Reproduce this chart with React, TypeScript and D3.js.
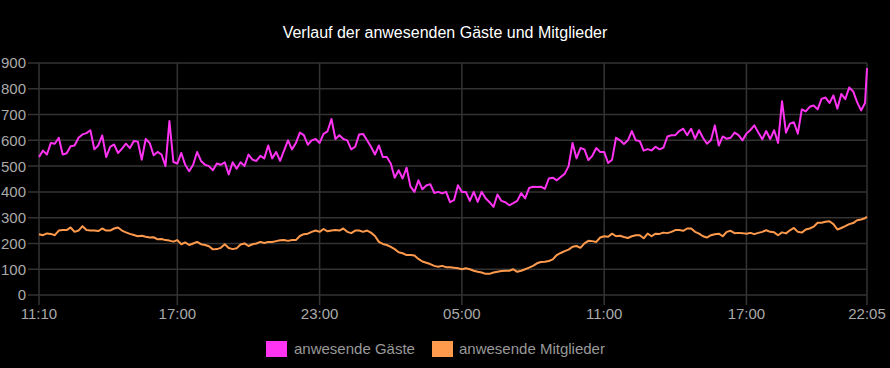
import React, { useMemo } from "react";
import * as d3 from "d3";

const WIDTH = 890;
const HEIGHT = 368;
const MARGIN = { top: 63, right: 23, bottom: 73, left: 39 };
const FONT = "'Liberation Sans', Arial, Helvetica, sans-serif";

const TITLE = "Verlauf der anwesenden Gäste und Mitglieder";
const SERIES_NAMES = ["anwesende Gäste", "anwesende Mitglieder"];
const SERIES_COLORS = ["#ff33f2", "#ff9a4c"];

// minutes after 11:10 on day one, samples every 10 min, last one at 22:05 next day
const STEP_MIN = 10;
const END_MIN = 2095;
const X_TICKS = [0, 350, 710, 1070, 1430, 1790, 2095];
const X_TICK_LABELS = ["11:10", "17:00", "23:00", "05:00", "11:00", "17:00", "22:05"];
const Y_TICKS = [0, 100, 200, 300, 400, 500, 600, 700, 800, 900];

const gaeste = [
  535, 560, 545, 590, 587, 610, 545, 550, 577, 580,
  610, 623, 628, 639, 565, 580, 619, 535, 575, 584,
  551, 568, 587, 570, 597, 595, 525, 605, 590, 542,
  555, 545, 500, 675, 516, 510, 551, 505, 480, 505,
  555, 520, 505, 500, 484, 510, 505, 515, 468, 515,
  490, 515, 500, 545, 525, 520, 540, 530, 580, 530,
  555, 520, 560, 600, 565, 590, 630, 620, 583, 600,
  605, 590, 625, 635, 683, 605, 620, 605, 600, 565,
  575, 623, 625, 600, 575, 545, 580, 535, 535, 510,
  455, 484, 452, 494, 420, 400, 445, 410, 425, 430,
  396, 400, 394, 400, 360, 368, 426, 400, 400, 365,
  400, 361, 400, 375, 360, 342, 390, 365, 360, 348,
  356, 365, 395, 375, 415, 420, 419, 420, 412, 452,
  455, 445, 458, 470, 500, 590, 530, 570, 565, 523,
  540, 570, 555, 555, 512, 525, 610, 600, 586, 600,
  636, 600, 597, 560, 566, 561, 575, 565, 572, 615,
  620, 620, 636, 645, 620, 645, 606, 639, 610, 587,
  600, 658, 580, 615, 606, 610, 630, 620, 600, 626,
  640, 658, 630, 604, 636, 605, 639, 590, 752, 630,
  665, 670, 626, 720, 712, 730, 735, 720, 761, 766,
  745, 774, 723, 780, 760, 805, 790, 748, 716, 745,
  880,
];

const mitglieder = [
  236, 232, 239, 237, 232, 250, 252, 252, 262, 245,
  250, 267, 252, 250, 250, 248, 258, 250, 250, 258,
  262, 250, 243, 237, 233, 228, 230, 226, 223, 224,
  216, 217, 213, 211, 207, 213, 197, 204, 194, 200,
  206, 197, 194, 189, 177, 178, 183, 197, 182, 178,
  181, 196, 200, 190, 197, 200, 206, 202, 206, 206,
  209, 212, 213, 210, 213, 213, 229, 236, 238, 245,
  250, 245, 256, 247, 250, 252, 250, 258, 245, 240,
  250, 250, 245, 250, 242, 229, 206, 198, 194, 187,
  178, 166, 162, 155, 155, 153, 140, 130, 125, 120,
  113, 110, 113, 108, 108, 106, 104, 100, 104, 100,
  94, 90, 87, 82, 82, 87, 90, 93, 94, 94,
  100, 90, 94, 100, 106, 113, 123, 128, 129, 132,
  138, 155, 163, 170, 176, 187, 190, 183, 200, 210,
  209, 206, 223, 228, 226, 238, 228, 230, 225, 221,
  228, 232, 232, 220, 238, 228, 238, 237, 242, 240,
  245, 252, 252, 249, 258, 258, 245, 238, 228, 223,
  232, 236, 238, 228, 245, 249, 240, 241, 240, 238,
  241, 236, 241, 245, 251, 245, 243, 232, 243, 239,
  251, 260, 245, 242, 254, 258, 265, 280, 280, 284,
  286, 275, 254, 260, 267, 275, 279, 290, 293, 298,
  303,
];

const minuteAt = (i: number, n: number) => (i === n - 1 ? END_MIN : i * STEP_MIN);

export default function App() {
  const boundsWidth = WIDTH - MARGIN.left - MARGIN.right;
  const boundsHeight = HEIGHT - MARGIN.top - MARGIN.bottom;

  const xScale = useMemo(
    () => d3.scaleLinear().domain([0, END_MIN]).range([0, boundsWidth]),
    [boundsWidth]
  );
  const yScale = useMemo(
    () => d3.scaleLinear().domain([0, 900]).range([boundsHeight, 0]),
    [boundsHeight]
  );

  const paths = useMemo(() => {
    return [gaeste, mitglieder].map((values) => {
      const line = d3
        .line<number>()
        .x((_, i) => xScale(minuteAt(i, values.length)))
        .y((d) => yScale(d));
      return line(values) || "";
    });
  }, [xScale, yScale]);

  const gridColor = "#333333";
  const tickColor = "#aaaaaa";

  // legend layout
  const legendY = 341;
  const legendItems = [
    { x: 266, textX: 294 },
    { x: 432, textX: 459 },
  ];

  return (
    <div style={{ position: "fixed", left: 0, top: 0, width: WIDTH, height: HEIGHT, background: "#000" }}>
      <svg width={WIDTH} height={HEIGHT} style={{ display: "block", fontFamily: FONT }}>
        <rect width={WIDTH} height={HEIGHT} fill="#000" />
        <text x={WIDTH / 2} y={38} textAnchor="middle" fill="#ffffff" fontSize={16}>
          {TITLE}
        </text>
        <g transform={`translate(${MARGIN.left},${MARGIN.top})`}>
          {Y_TICKS.map((t) => (
            <g key={"y" + t}>
              <line
                x1={-11}
                x2={boundsWidth}
                y1={yScale(t)}
                y2={yScale(t)}
                stroke={gridColor}
                strokeWidth={1.5}
              />
              <text
                x={-13}
                y={yScale(t)}
                dy="0.36em"
                textAnchor="end"
                fill={tickColor}
                fontSize={15}
              >
                {t}
              </text>
            </g>
          ))}
          {X_TICKS.map((t, i) => (
            <g key={"x" + i}>
              <line
                x1={xScale(t)}
                x2={xScale(t)}
                y1={0}
                y2={boundsHeight + 10}
                stroke={gridColor}
                strokeWidth={1.5}
              />
              <text
                x={xScale(t)}
                y={boundsHeight + 24}
                textAnchor="middle"
                fill={tickColor}
                fontSize={15}
              >
                {X_TICK_LABELS[i]}
              </text>
            </g>
          ))}
          {paths.map((d, i) => (
            <path
              key={"p" + i}
              d={d}
              fill="none"
              stroke={SERIES_COLORS[i]}
              strokeWidth={2}
              strokeLinejoin="round"
            />
          ))}
        </g>
        {SERIES_NAMES.map((name, i) => (
          <g key={"l" + i}>
            <rect
              x={legendItems[i].x}
              y={legendY}
              width={21}
              height={16}
              fill={SERIES_COLORS[i]}
            />
            <text
              x={legendItems[i].textX}
              y={legendY + 8}
              dy="0.36em"
              fill="#999999"
              fontSize={15}
            >
              {name}
            </text>
          </g>
        ))}
      </svg>
    </div>
  );
}
